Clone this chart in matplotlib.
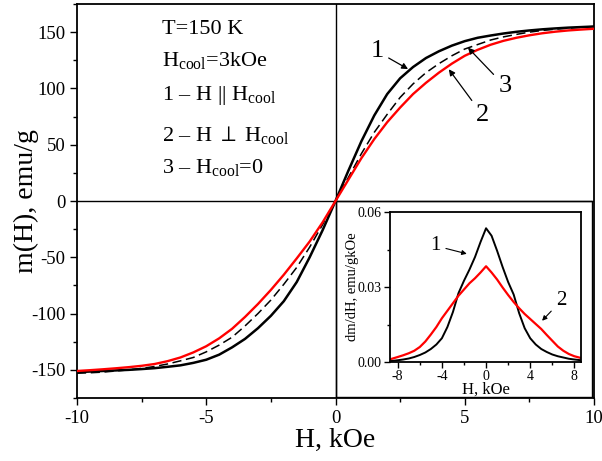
import matplotlib
matplotlib.use("Agg")
import matplotlib.pyplot as plt
from matplotlib.ticker import MultipleLocator, FixedLocator, FormatStrFormatter
from matplotlib.patches import Rectangle

plt.rcParams['font.family'] = ['Liberation Serif', 'DejaVu Serif']
plt.rcParams['mathtext.fontset'] = 'custom'
plt.rcParams['mathtext.rm'] = 'Liberation Serif'
plt.rcParams['mathtext.it'] = 'Liberation Serif:italic'
plt.rcParams['axes.unicode_minus'] = False

# ---- main data: m(H) ----
H = [-10, -9.5, -9, -8.5, -8, -7.5, -7, -6.5, -6, -5.5, -5, -4.5, -4, -3.5, -3, -2.5, -2, -1.5, -1, -0.5,
     0, 0.5, 1, 1.5, 2, 2.5, 3, 3.5, 4, 4.5, 5, 5.5, 6, 6.5, 7, 7.5, 8, 8.5, 9, 9.5, 10]
m_par = [-152, -151.5, -151, -150.5, -150, -149.3, -148.5, -147.3, -146, -143.8, -141, -136.5, -130, -122.5,
         -113, -102, -89, -72, -50, -26,
         0, 27, 53, 76, 95, 109, 119, 127, 133, 138, 142, 145, 147, 148.8, 150.3, 151.5, 152.5, 153.3, 154, 154.5, 155]
m_perp = [-151, -150.3, -149.5, -148.6, -147.6, -146.4, -144.8, -142.3, -139, -134.5, -129, -122, -113.5, -103,
          -91.5, -79, -65.5, -51, -36, -19,
          0, 19, 38, 55, 70, 83, 95, 105, 114, 122, 129, 134.3, 138.8, 142.3, 145, 147.2, 149, 150.4, 151.5, 152.3, 153]
m_zero = [-153, -152.6, -152, -151, -150, -148.7, -147, -144.8, -142, -139, -134, -128, -121, -111,
          -100, -88, -74, -59, -41, -21,
          0, 21, 42, 61, 77, 92, 104, 114, 122, 129, 135, 139, 143, 145.8, 148, 150, 151.5, 152.6, 153.5, 154.3, 155]

# ---- inset data: dm/dH ----
Hi = [-8.6, -8, -7.5, -7, -6.5, -6, -5.5, -5, -4.5, -4, -3.5, -3, -2.5, -2, -1.5, -1, -0.5, 0,
      0.5, 1, 1.5, 2, 2.5, 3, 3.5, 4, 4.5, 5, 5.5, 6, 6.5, 7, 7.5, 8, 8.6]
d_par = [0.0004, 0.0007, 0.0010, 0.0014, 0.0020, 0.0028, 0.0038, 0.0052, 0.0070, 0.0095, 0.0140, 0.0200,
         0.0275, 0.0325, 0.0370, 0.0420, 0.0480, 0.0535,
         0.0505, 0.0445, 0.0380, 0.0320, 0.0270, 0.0195, 0.0135, 0.0095, 0.0070, 0.0052, 0.0040, 0.0030,
         0.0023, 0.0018, 0.0013, 0.0010, 0.0007]
d_perp = [0.0012, 0.0020, 0.0027, 0.0035, 0.0045, 0.0060, 0.0082, 0.0110, 0.0140, 0.0175, 0.0205, 0.0235,
          0.0265, 0.0290, 0.0315, 0.0335, 0.0358, 0.0383,
          0.0358, 0.0330, 0.0298, 0.0268, 0.0240, 0.0215, 0.0192, 0.0172, 0.0152, 0.0132, 0.0108, 0.0085,
          0.0062, 0.0045, 0.0032, 0.0023, 0.0016]

fig = plt.figure(figsize=(6.02, 4.61), dpi=100)
ax = fig.add_axes([77/602, 63/461, 517/602, 394/461])

ax.plot(H, m_par, color='black', lw=1.8, zorder=3)
ax.plot(H, m_zero, color='black', lw=1.1, ls=(0, (6, 3)), zorder=3)
ax.plot(H, m_perp, color='red', lw=1.7, zorder=3)
ax.axhline(0, color='black', lw=1.0, zorder=2)
ax.axvline(0, color='black', lw=1.0, zorder=2)
ax.add_patch(Rectangle((0.5, 0.003), 0.496, 0.497, transform=ax.transAxes,
                       fill=False, lw=1.0, ec='black', zorder=2))

ax.set_xlim(-10, 10)
ax.set_ylim(-175, 175)
ax.xaxis.set_major_locator(MultipleLocator(5))
ax.xaxis.set_minor_locator(MultipleLocator(2.5))
ax.yaxis.set_major_locator(MultipleLocator(50))
ax.yaxis.set_minor_locator(MultipleLocator(25))
ax.tick_params(which='both', direction='out', top=False, right=False, width=1.0, labelsize=13.5)
ax.tick_params(which='major', length=5)
ax.tick_params(which='minor', length=3)
for s in ax.spines.values():
    s.set_linewidth(1.3)
ax.set_xlabel('H, kOe', fontsize=20, labelpad=1)
ax.set_ylabel('m(H), emu/g', fontsize=20)
ax.yaxis.set_label_coords(-0.073, 0.5)

# text block
tx = -6.7
fs = 16
ax.text(tx, 152, 'T=150 K', fontsize=fs, va='center', ha='left')
ax.text(tx, 125, 'H$_{\\rm cool}$=3kOe', fontsize=fs, va='center', ha='left')
ax.text(tx, 94, '1 – H || H$_{\\rm cool}$', fontsize=fs, va='center', ha='left')
ax.text(tx, 59, '2 – H $\\perp$ H$_{\\rm cool}$', fontsize=fs, va='center', ha='left')
ax.text(tx, 30, '3 – H$_{\\rm cool}$=0', fontsize=fs, va='center', ha='left')

arw = dict(arrowstyle='-|>', color='black', lw=0.9, mutation_scale=9)
ax.annotate('1', xy=(2.90, 116), xytext=(1.6, 133), fontsize=19, ha='center', va='center', arrowprops=arw)
ax.annotate('2', xy=(4.32, 119), xytext=(5.7, 76), fontsize=19, ha='center', va='center', arrowprops=arw)
ax.annotate('3', xy=(5.05, 138), xytext=(6.55, 102), fontsize=19, ha='center', va='center', arrowprops=arw)

# inset
axi = fig.add_axes([390/602, 99/461, 191/602, 150/461])
axi.plot(Hi, d_par, color='black', lw=1.4)
axi.plot(Hi, d_perp, color='red', lw=1.6)
axi.set_xlim(-8.7, 8.6)
axi.set_ylim(0, 0.06)
axi.xaxis.set_major_locator(MultipleLocator(4))
axi.xaxis.set_minor_locator(MultipleLocator(2))
axi.yaxis.set_major_locator(FixedLocator([0, 0.03, 0.06]))
axi.yaxis.set_minor_locator(MultipleLocator(0.015))
axi.yaxis.set_major_formatter(FormatStrFormatter('%.2f'))
axi.tick_params(which='both', direction='out', top=False, right=False, labelsize=10, width=1.0, pad=2)
axi.tick_params(which='major', length=4)
axi.tick_params(which='minor', length=2.5)
for s in axi.spines.values():
    s.set_linewidth(1.3)
axi.set_xlabel('H, kOe', fontsize=12, labelpad=-1)
axi.set_ylabel('dm/dH, emu/gkOe', fontsize=10.5, labelpad=-1)

arw2 = dict(arrowstyle='-|>', color='black', lw=0.8, mutation_scale=7)
axi.annotate('1', xy=(-1.5, 0.043), xytext=(-4.6, 0.0465), fontsize=15, ha='center', va='center', arrowprops=arw2)
axi.annotate('2', xy=(4.9, 0.0157), xytext=(6.8, 0.0245), fontsize=15, ha='center', va='center', arrowprops=arw2)

fig.savefig('out.png', dpi=100)
